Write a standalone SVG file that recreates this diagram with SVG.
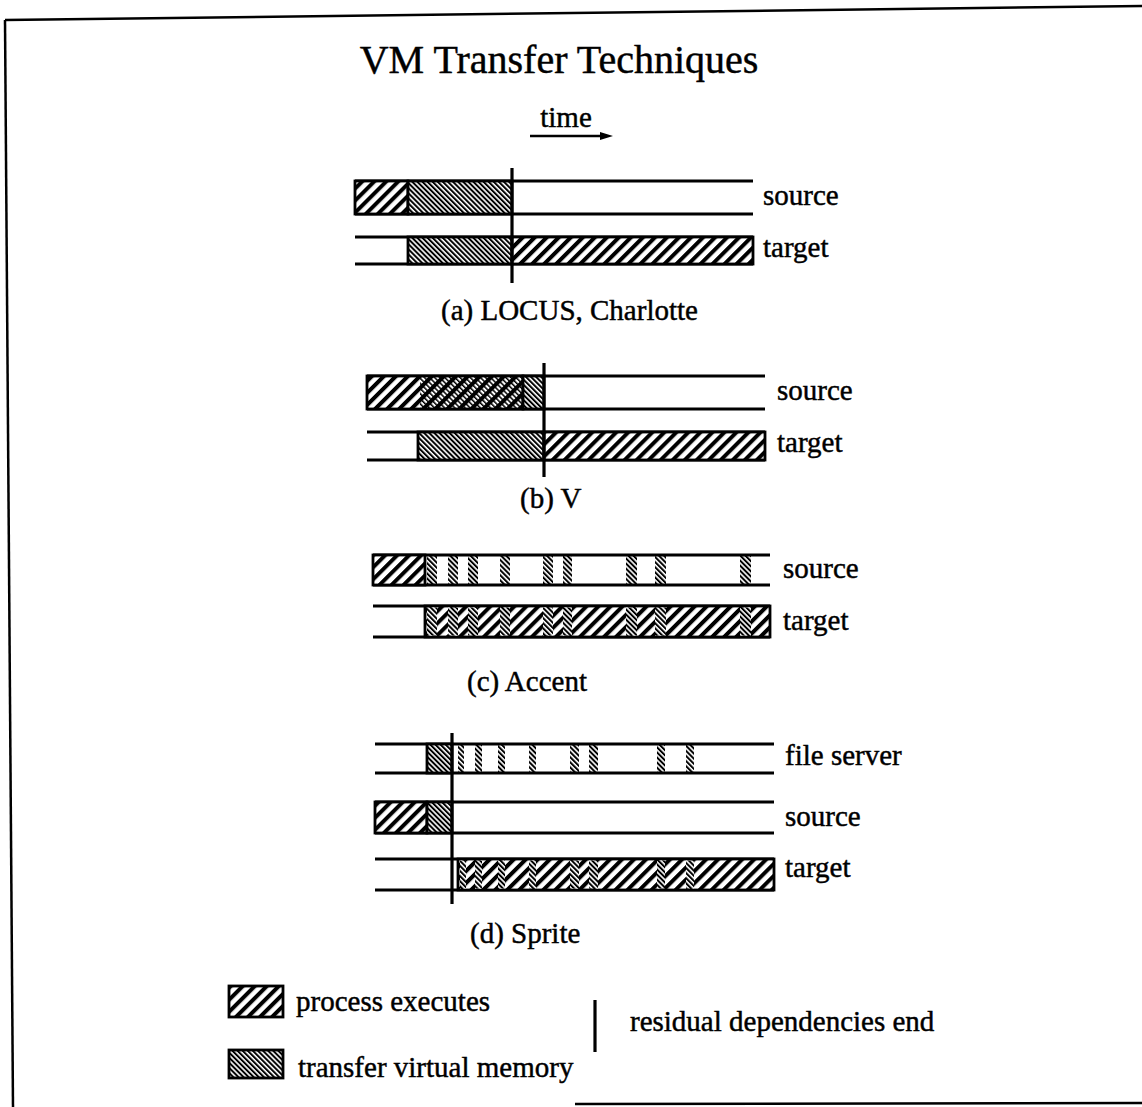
<svg xmlns="http://www.w3.org/2000/svg" width="1142" height="1107" viewBox="0 0 1142 1107">
<style>
text{font-family:"Liberation Serif","Times New Roman",serif;fill:#000;stroke:#000;stroke-width:0.45}
.lbl{font-size:29px}
.title{font-size:40px}
.row{stroke:#000;stroke-width:3;fill:none}
.vl{stroke:#000;stroke-width:3.2}
.ex{fill:url(#exec);stroke:#000;stroke-width:2.8}
.xf{fill:url(#xfer);stroke:#000;stroke-width:2.8}
.st{fill:url(#xfer)}
.ov{fill:url(#xferT)}
.bd{stroke:#000;stroke-width:2.5;fill:none}
</style>
<defs>
<pattern id="exec" patternUnits="userSpaceOnUse" width="8.5" height="8.5" patternTransform="rotate(45)">
<rect width="8.5" height="8.5" fill="#fff"/><rect width="4" height="8.5" fill="#000"/>
</pattern>
<pattern id="xfer" patternUnits="userSpaceOnUse" width="3.6" height="4" patternTransform="rotate(-45)">
<rect width="3.6" height="4" fill="#fff"/><rect width="2" height="4" fill="#000"/>
</pattern>
<pattern id="xferT" patternUnits="userSpaceOnUse" width="3.6" height="4" patternTransform="rotate(-45)">
<rect width="1.5" height="4" fill="#000"/>
</pattern>
</defs>

<g id="border">
<line class="bd" x1="5" y1="20" x2="1142" y2="6"/>
<line class="bd" x1="5" y1="20" x2="13" y2="1107"/>
<line class="bd" x1="575" y1="1104" x2="1142" y2="1103"/>
</g>

<g id="title"><text class="title" x="559" y="73" text-anchor="middle">VM Transfer Techniques</text></g>

<g id="time">
<text class="lbl" x="566" y="127" text-anchor="middle">time</text>
<line x1="530" y1="136" x2="604" y2="136" stroke="#000" stroke-width="2.5"/>
<polygon points="613,136 600,132 600,140" fill="#000"/>
</g>

<g id="panel-a">
<g id="a-source">
<line class="row" x1="355" y1="181" x2="753" y2="181"/>
<line class="row" x1="355" y1="214" x2="753" y2="214"/>
<rect class="ex" x="355" y="181" width="53" height="33"/>
<rect class="xf" x="408" y="181" width="104" height="33"/>
<text class="lbl" x="763" y="205">source</text>
</g>
<g id="a-target">
<line class="row" x1="355" y1="237" x2="753" y2="237"/>
<line class="row" x1="355" y1="264" x2="753" y2="264"/>
<rect class="xf" x="408" y="237" width="104" height="27"/>
<rect class="ex" x="512" y="237" width="241" height="27"/>
<text class="lbl" x="763" y="257">target</text>
</g>
<line class="vl" x1="512" y1="168" x2="512" y2="283"/>
<text class="lbl" x="441" y="320">(a) LOCUS, Charlotte</text>
</g>

<g id="panel-b">
<g id="b-source">
<line class="row" x1="367" y1="376" x2="765" y2="376"/>
<line class="row" x1="367" y1="409" x2="765" y2="409"/>
<rect class="ex" x="367" y="376" width="156" height="33"/>
<rect class="ov" x="420" y="377" width="103" height="31"/>
<rect class="xf" x="523" y="376" width="21" height="33"/>
<text class="lbl" x="777" y="400">source</text>
</g>
<g id="b-target">
<line class="row" x1="367" y1="432" x2="765" y2="432"/>
<line class="row" x1="367" y1="460" x2="765" y2="460"/>
<rect class="xf" x="418" y="432" width="126" height="28"/>
<rect class="ex" x="544" y="432" width="221" height="28"/>
<text class="lbl" x="777" y="452">target</text>
</g>
<line class="vl" x1="544" y1="363" x2="544" y2="477"/>
<text class="lbl" x="520" y="508">(b) V</text>
</g>

<g id="panel-c">
<g id="c-source">
<rect class="st" x="427" y="555" width="10" height="30"/>
<rect class="st" x="448" y="555" width="10" height="30"/>
<rect class="st" x="468" y="555" width="10" height="30"/>
<rect class="st" x="500" y="555" width="10" height="30"/>
<rect class="st" x="543" y="555" width="10" height="30"/>
<rect class="st" x="563" y="555" width="9" height="30"/>
<rect class="st" x="626" y="555" width="11" height="30"/>
<rect class="st" x="655" y="555" width="11" height="30"/>
<rect class="st" x="740" y="555" width="11" height="30"/>
<line class="row" x1="373" y1="555" x2="770" y2="555"/>
<line class="row" x1="373" y1="585" x2="770" y2="585"/>
<rect class="ex" x="373" y="555" width="52" height="30"/>
<text class="lbl" x="783" y="578">source</text>
</g>
<g id="c-target">
<line class="row" x1="373" y1="606" x2="770" y2="606"/>
<line class="row" x1="373" y1="637" x2="770" y2="637"/>
<rect class="ex" x="425" y="606" width="345" height="31"/>
<rect class="st" x="427" y="607.5" width="10" height="28"/>
<rect class="st" x="448" y="607.5" width="10" height="28"/>
<rect class="st" x="468" y="607.5" width="10" height="28"/>
<rect class="st" x="500" y="607.5" width="10" height="28"/>
<rect class="st" x="543" y="607.5" width="10" height="28"/>
<rect class="st" x="563" y="607.5" width="9" height="28"/>
<rect class="st" x="626" y="607.5" width="11" height="28"/>
<rect class="st" x="655" y="607.5" width="11" height="28"/>
<rect class="st" x="740" y="607.5" width="11" height="28"/>
<text class="lbl" x="783" y="630">target</text>
</g>
<text class="lbl" x="467" y="691">(c) Accent</text>
</g>

<g id="panel-d">
<g id="d-fileserver">
<rect class="st" x="458" y="744" width="6" height="29"/>
<rect class="st" x="475" y="744" width="7" height="29"/>
<rect class="st" x="498" y="744" width="7" height="29"/>
<rect class="st" x="529" y="744" width="7" height="29"/>
<rect class="st" x="570" y="744" width="9" height="29"/>
<rect class="st" x="589" y="744" width="9" height="29"/>
<rect class="st" x="657" y="744" width="8" height="29"/>
<rect class="st" x="686" y="744" width="8" height="29"/>
<line class="row" x1="375" y1="744" x2="774" y2="744"/>
<line class="row" x1="375" y1="773" x2="774" y2="773"/>
<rect class="xf" x="427" y="744" width="25" height="29"/>
<text class="lbl" x="785" y="765">file server</text>
</g>
<g id="d-source">
<line class="row" x1="375" y1="802" x2="774" y2="802"/>
<line class="row" x1="375" y1="833" x2="774" y2="833"/>
<rect class="ex" x="375" y="802" width="52" height="31"/>
<rect class="xf" x="427" y="802" width="25" height="31"/>
<text class="lbl" x="785" y="826">source</text>
</g>
<g id="d-target">
<line class="row" x1="375" y1="859" x2="774" y2="859"/>
<line class="row" x1="375" y1="890" x2="774" y2="890"/>
<rect class="ex" x="458" y="859" width="316" height="31"/>
<rect class="st" x="460" y="860.5" width="6" height="28"/>
<rect class="st" x="475" y="860.5" width="7" height="28"/>
<rect class="st" x="498" y="860.5" width="7" height="28"/>
<rect class="st" x="529" y="860.5" width="7" height="28"/>
<rect class="st" x="570" y="860.5" width="9" height="28"/>
<rect class="st" x="589" y="860.5" width="9" height="28"/>
<rect class="st" x="657" y="860.5" width="8" height="28"/>
<rect class="st" x="686" y="860.5" width="8" height="28"/>
<text class="lbl" x="785" y="877">target</text>
</g>
<line class="vl" x1="452" y1="733" x2="452" y2="904"/>
<text class="lbl" x="470" y="943">(d) Sprite</text>
</g>

<g id="legend">
<g id="legend-exec">
<rect class="ex" x="229" y="986" width="54" height="31"/>
<text class="lbl" x="296" y="1011">process executes</text>
</g>
<g id="legend-xfer">
<rect class="xf" x="229" y="1050" width="54" height="28"/>
<text class="lbl" x="298" y="1077">transfer virtual memory</text>
</g>
<g id="legend-resid">
<line class="vl" x1="595" y1="1000" x2="595" y2="1052"/>
<text class="lbl" x="630" y="1031">residual dependencies end</text>
</g>
</g>
</svg>
